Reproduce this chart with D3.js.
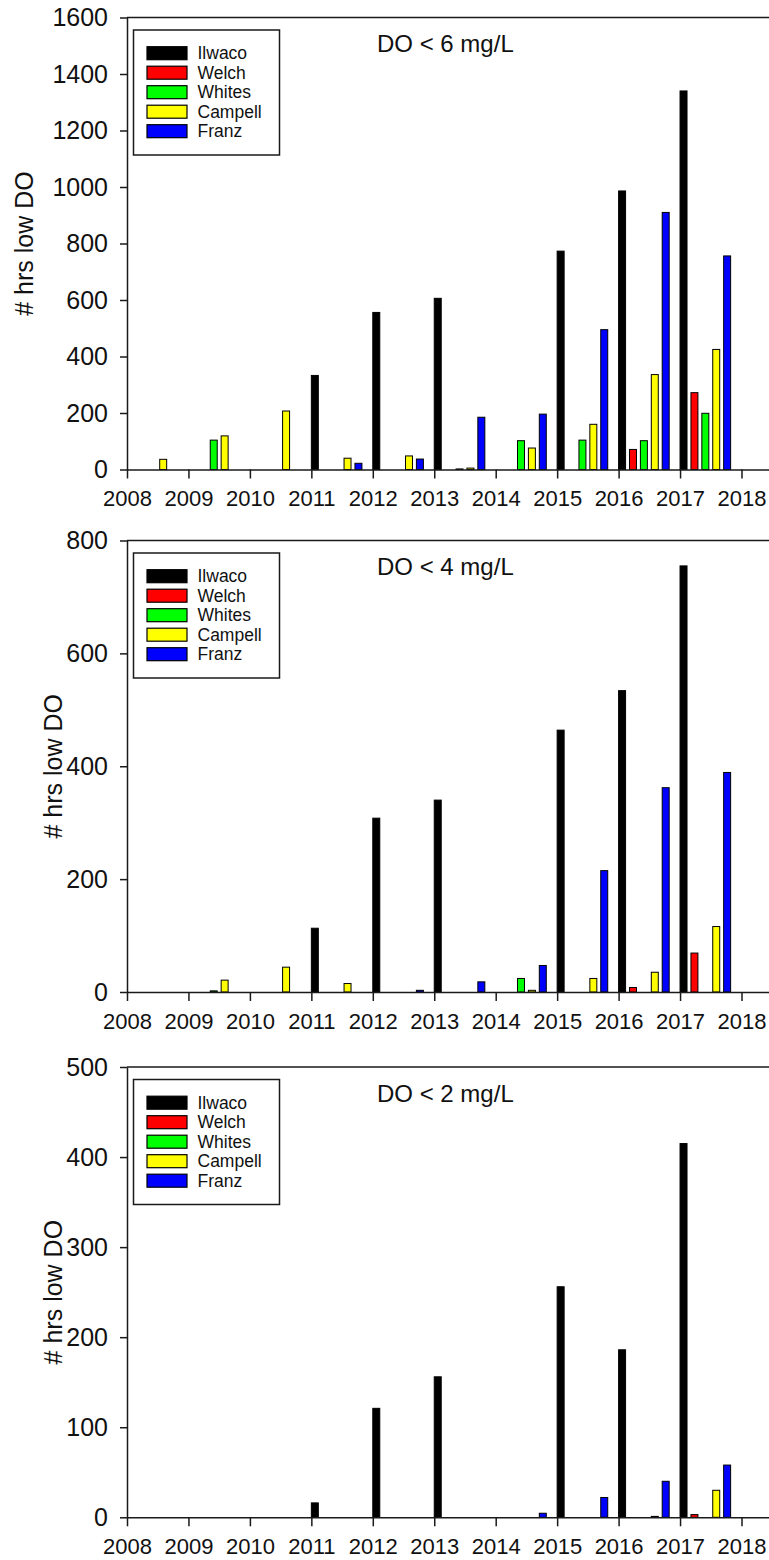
<!DOCTYPE html>
<html>
<head>
<meta charset="utf-8">
<script src="https://cdn.jsdelivr.net/npm/d3@7"></script>
<style>
  body { margin: 0; background: #fff; }
  svg { display: block; font-family: "Liberation Sans", Arial, sans-serif; }
  .axis path, .axis line { stroke: #1a1a1a; stroke-width: 1.5; }
  .axis text { fill: #111; }
</style>
</head>
<body>
<svg id="chart" width="769" height="1560"></svg>
<script>
// data, one value per year 2008..2017 (0 = no bar)
const years = [2008, 2009, 2010, 2011, 2012, 2013, 2014, 2015, 2016, 2017];
const sites = ["Ilwaco", "Welch", "Whites", "Campell", "Franz"];
const siteColors = ["#000000", "#ff0000", "#00ff00", "#ffff00", "#0000ff"];

// DO < 6 mg/L
const ilwaco6 = [0, 0, 0, 333, 556, 606, 0, 773, 986, 1340];
const welch6 = [0, 0, 0, 0, 0, 0, 0, 0, 71, 272];
const whites6 = [0, 104, 0, 0, 0, 2, 102, 104, 102, 199];
const campell6 = [36, 119, 207, 40, 48, 5, 76, 160, 336, 425];
const franz6 = [0, 0, 0, 22, 37, 185, 196, 495, 910, 756];

// DO < 4 mg/L
const ilwaco4 = [0, 0, 0, 113, 308, 340, 0, 464, 534, 755];
const welch4 = [0, 0, 0, 0, 0, 0, 0, 0, 8, 69];
const whites4 = [0, 2, 0, 0, 0, 0, 24, 0, 0, 0];
const campell4 = [0, 21, 44, 15, 0, 0, 3, 24, 35, 116];
const franz4 = [0, 0, 0, 0, 3, 18, 47, 215, 362, 389];

// DO < 2 mg/L
const ilwaco2 = [0, 0, 0, 16, 121, 156, 0, 256, 186, 415];
const welch2 = [0, 0, 0, 0, 0, 0, 0, 0, 0, 3];
const whites2 = [0, 0, 0, 0, 0, 0, 0, 0, 0, 0];
const campell2 = [0, 0, 0, 0, 0, 0, 0, 0, 1, 30];
const franz2 = [0, 0, 0, 0, 0, 0, 4.5, 22, 40, 58];

const xTicks = [2008, 2009, 2010, 2011, 2012, 2013, 2014, 2015, 2016, 2017, 2018];
const yTicks6 = [0, 200, 400, 600, 800, 1000, 1200, 1400, 1600];
const yTicks4 = [0, 200, 400, 600, 800];
const yTicks2 = [0, 100, 200, 300, 400, 500];

const svg = d3.select("#chart");
const left = 127;
const yearW = 61.45;

// x axis runs past the right edge of the picture, like the original crop
let x = d3.scaleLinear().domain([2008, 2018.5]).range([left, left + 10.5 * yearW]);

function drawPanel(top, bottom, yMax, yTicks, title, series, labelX) {
  let g = svg.append("g");
  let y = d3.scaleLinear().domain([0, yMax]).range([bottom, top]);

  // bars: five sites side by side starting at each year tick
  let band = d3.scaleBand().domain(sites).range([-0.032, 0.855]).paddingInner(0.36).paddingOuter(0.18);
  let rows = [];
  series.forEach((vals, s) => {
    vals.forEach((v, i) => {
      if (v > 0) rows.push({ year: years[i], site: sites[s], color: siteColors[s], v: v });
    });
  });
  g.selectAll("rect.bar").data(rows).enter().append("rect")
    .attr("class", "bar")
    .attr("x", d => x(d.year + band(d.site)))
    .attr("width", band.bandwidth() * yearW)
    .attr("y", d => y(d.v))
    .attr("height", d => y(0) - y(d.v))
    .attr("fill", d => d.color)
    .attr("stroke", "#000")
    .attr("stroke-width", 1);

  // axes
  let yAxis = d3.axisLeft(y).tickValues(yTicks).tickFormat(d3.format("d")).tickSize(7).tickPadding(12).tickSizeOuter(0);
  g.append("g").attr("class", "axis").attr("transform", `translate(${left},0)`).call(yAxis)
    .selectAll("text").style("font-size", "25px");

  let xAxis = d3.axisBottom(x).tickValues(xTicks).tickFormat(d3.format("d")).tickSize(9).tickPadding(12).tickSizeOuter(0);
  g.append("g").attr("class", "axis").attr("transform", `translate(0,${bottom})`).call(xAxis)
    .selectAll("text").style("font-size", "22px");

  // top frame line
  g.append("line").attr("x1", left).attr("x2", 769).attr("y1", top).attr("y2", top)
    .attr("stroke", "#1a1a1a").attr("stroke-width", 1.5);

  // y label
  g.append("text")
    .attr("transform", `translate(${labelX},${(top + bottom) / 2}) rotate(-90)`)
    .attr("text-anchor", "middle").attr("dy", "0.35em")
    .style("font-size", "25px").attr("fill", "#111")
    .text("# hrs low DO");

  // title
  g.append("text").attr("x", 377).attr("y", top + 34.5)
    .style("font-size", "24px").attr("fill", "#111").text(title);

  // legend
  let lg = g.append("g").attr("transform", `translate(133.5,${top + 12.5})`);
  lg.append("rect").attr("width", 146).attr("height", 125)
    .attr("fill", "#fff").attr("stroke", "#1a1a1a").attr("stroke-width", 1.5);
  sites.forEach((name, i) => {
    lg.append("rect").attr("x", 13.5).attr("y", 16.7 + i * 19.5)
      .attr("width", 40).attr("height", 13)
      .attr("fill", siteColors[i]).attr("stroke", "#000").attr("stroke-width", 1.2);
    lg.append("text").attr("x", 64).attr("y", 23.2 + i * 19.5).attr("dy", "0.35em")
      .style("font-size", "17.5px").attr("fill", "#111").text(name);
  });
}

drawPanel(17.5, 469.5, 1600, yTicks6, "DO < 6 mg/L", [ilwaco6, welch6, whites6, campell6, franz6], 24);
drawPanel(540.5, 992, 800, yTicks4, "DO < 4 mg/L", [ilwaco4, welch4, whites4, campell4, franz4], 53);
drawPanel(1067, 1517.3, 500, yTicks2, "DO < 2 mg/L", [ilwaco2, welch2, whites2, campell2, franz2], 53);
</script>
</body>
</html>
